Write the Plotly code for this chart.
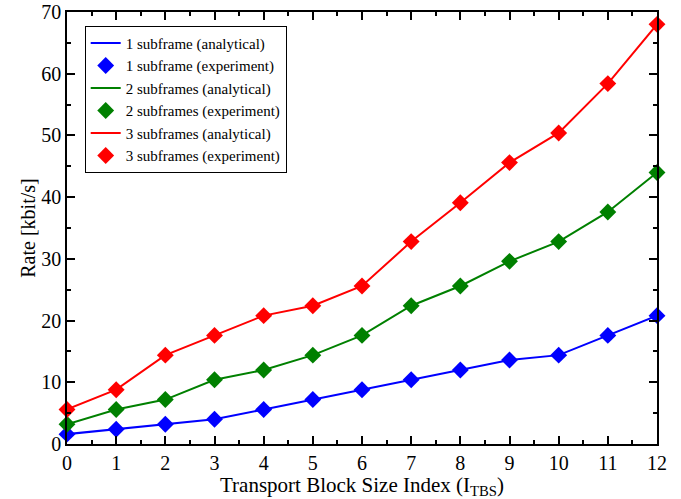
import plotly.graph_objects as go

tbs_index = list(range(13))
rate_1sf = [1.6, 2.4, 3.2, 4.0, 5.6, 7.2, 8.8, 10.4, 12.0, 13.6, 14.4, 17.6, 20.8]
rate_2sf = [3.2, 5.6, 7.2, 10.4, 12.0, 14.4, 17.6, 22.4, 25.6, 29.6, 32.8, 37.6, 44.0]
rate_3sf = [5.6, 8.8, 14.4, 17.6, 20.8, 22.4, 25.6, 32.8, 39.1, 45.6, 50.4, 58.4, 68.0]

series = [
    ("1 subframe", rate_1sf, "#0000ff"),
    ("2 subframes", rate_2sf, "#008000"),
    ("3 subframes", rate_3sf, "#ff0000"),
]

fig = go.Figure()
for name, vals, col in series:
    fig.add_trace(go.Scatter(x=tbs_index, y=vals, mode="lines",
                             line=dict(color=col, width=2),
                             name=f"{name} (analytical)"))
    fig.add_trace(go.Scatter(x=tbs_index, y=vals, mode="markers",
                             marker=dict(symbol="diamond", color=col, size=13),
                             name=f"{name} (experiment)", cliponaxis=False))

font = "Liberation Serif"
axis_common = dict(
    showgrid=False, zeroline=False, showline=True, linecolor="black", linewidth=1.5,
    mirror="allticks", ticks="inside", ticklen=8, tickwidth=2, tickcolor="black",
    tickfont=dict(family=font, size=20, color="black"), automargin=False,
)
fig.update_layout(
    width=681, height=499,
    margin=dict(l=67, r=24, t=12, b=55),
    paper_bgcolor="white", plot_bgcolor="white",
    font=dict(family=font, color="black"),
    xaxis=dict(range=[0, 12], tickmode="linear", tick0=0, dtick=1,
               minor=dict(tickmode="linear", tick0=0, dtick=0.5, ticks="inside", ticklen=4,
                          tickwidth=1.5, tickcolor="black", showgrid=False),
               title=dict(text="Transport Block Size Index (I<sub>TBS</sub>)",
                          font=dict(family=font, size=21), standoff=4),
               **axis_common),
    yaxis=dict(range=[0, 70], tickmode="linear", tick0=0, dtick=10,
               minor=dict(tickmode="linear", tick0=0, dtick=5, ticks="inside", ticklen=4,
                          tickwidth=1.5, tickcolor="black", showgrid=False),
               title=dict(text="Rate [kbit/s]", font=dict(family=font, size=20), standoff=0),
               **axis_common),
    legend=dict(x=0.03, y=0.968, xanchor="left", yanchor="top",
                bgcolor="white", bordercolor="black", borderwidth=1,
                font=dict(family=font, size=15), tracegroupgap=0),
    showlegend=True,
)
fig.write_html("out.html", config={"displayModeBar": False},
               post_script="document.body.style.margin='0';document.body.style.overflow='hidden';")
